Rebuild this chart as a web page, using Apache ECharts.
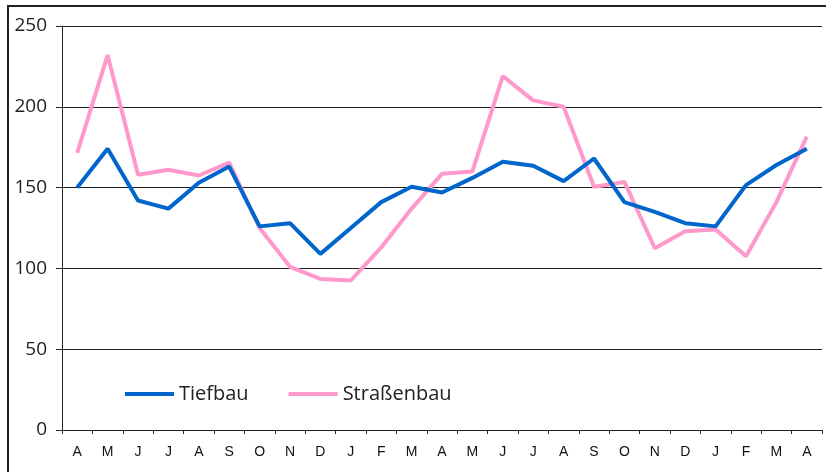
<!DOCTYPE html>
<html><head><meta charset="utf-8">
<script src="https://cdn.jsdelivr.net/npm/echarts@6/dist/echarts.min.js"></script>
<style>html,body{margin:0;padding:0;background:#fff}#c{width:826px;height:472px}</style>
</head><body><div id="c"></div>
<script>
const months = ['A','M','J','J','A','S','O','N','D','J','F','M','A','M','J','J','A','S','O','N','D','J','F','M','A'];
const tiefbau = [150,174,142,137,153,163,126,128,109,125,141,150.5,147,156,166,163.5,154,168,141,135,128,126,151.5,164,174];
const strassenbau = [171.5,232,158,161,157.5,165.5,125,101,93.5,92.5,113,137,158.5,160,219,204,200,150.5,153.5,112.5,123,124,107.5,141,181.5];
const yTicks = [0,50,100,150,200,250];

const chart = echarts.init(document.getElementById('c'));
chart.setOption({
  animation:false,
  backgroundColor:'#fff',
  graphic:[{type:'rect',shape:{x:8,y:6,width:840,height:490},style:{fill:'none',stroke:'#222',lineWidth:2},z:100}],
  grid:{left:62,right:4,top:26,bottom:42,containLabel:false},
  legend:{
    left:125,top:384,padding:0,itemWidth:49,itemHeight:4,itemGap:40,icon:'rect',
    textStyle:{fontFamily:'Open Sans',fontSize:20,color:'#222',padding:[0,0,0,0]},
    data:['Tiefbau','Straßenbau']
  },
  xAxis:{
    type:'category',data:months,boundaryGap:true,
    axisLine:{lineStyle:{color:'#222',width:1}},
    axisTick:{show:true,length:4,inside:false,lineStyle:{color:'#222'}},
    axisLabel:{fontFamily:'Liberation Sans',fontSize:14,color:'#111',margin:15}
  },
  yAxis:{
    type:'value',min:yTicks[0],max:yTicks[yTicks.length-1],interval:50,
    axisLine:{show:true,lineStyle:{color:'#222',width:1}},
    axisTick:{show:true,length:6,lineStyle:{color:'#222'}},
    splitLine:{show:true,lineStyle:{color:'#222',width:1}},
    axisLabel:{fontFamily:'Open Sans',fontSize:19,color:'#222',margin:15}
  },
  series:[
    {name:'Tiefbau',type:'line',data:tiefbau,symbol:'none',lineStyle:{color:'#0066CC',width:4},itemStyle:{color:'#0066CC'},z:3},
    {name:'Straßenbau',type:'line',data:strassenbau,symbol:'none',lineStyle:{color:'#FF99CC',width:4},itemStyle:{color:'#FF99CC'},z:2}
  ]
});
</script></body></html>
